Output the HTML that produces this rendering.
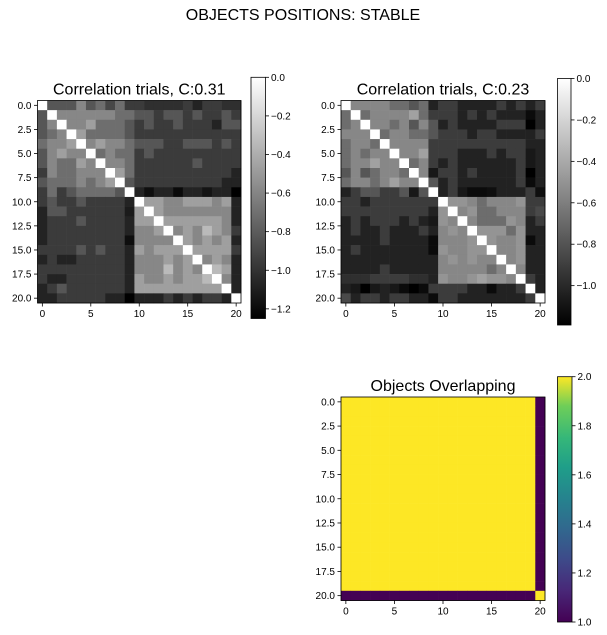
<!DOCTYPE html>
<html><head><meta charset="utf-8"><style>
html,body{margin:0;padding:0;background:#fff;}
svg{display:block;font-family:"Liberation Sans","DejaVu Sans",sans-serif;}
</style></head><body>
<svg id="fig" width="607" height="635" viewBox="0 0 607 635" xmlns="http://www.w3.org/2000/svg">
<defs>
<linearGradient id="grayGrad" x1="0" y1="1" x2="0" y2="0"><stop offset="0" stop-color="#000"/><stop offset="1" stop-color="#fff"/></linearGradient>
<linearGradient id="virGrad" x1="0" y1="1" x2="0" y2="0">
<stop offset="0" stop-color="#440154"/><stop offset="0.13" stop-color="#482878"/><stop offset="0.25" stop-color="#3e4989"/><stop offset="0.38" stop-color="#31688e"/><stop offset="0.5" stop-color="#26828e"/><stop offset="0.63" stop-color="#1f9e89"/><stop offset="0.75" stop-color="#35b779"/><stop offset="0.88" stop-color="#6ece58"/><stop offset="1" stop-color="#fde725"/>
</linearGradient>
</defs>
<text x="303" y="20" font-size="16" text-anchor="middle" fill="#000">OBJECTS POSITIONS: STABLE</text>
</svg>
<script>
// Matrix 1 (Correlation trials, C:0.31)
const corr1 = [
[0,-0.83,-0.83,-0.83,-0.59,-0.83,-0.71,-0.9,-0.71,-0.96,-0.96,-1.02,-1.02,-1.02,-1.02,-0.96,-1.08,-0.96,-0.96,-1.02,-1.02],
[-0.83,0,-0.59,-0.59,-0.59,-0.59,-0.59,-0.59,-0.71,-0.71,-0.83,-0.83,-0.96,-0.83,-0.83,-0.96,-0.83,-0.96,-0.96,-0.83,-0.96],
[-0.83,-0.59,0,-0.59,-0.59,-0.47,-0.71,-0.71,-0.71,-0.83,-0.96,-0.83,-0.96,-0.96,-0.83,-0.96,-0.96,-0.96,-1.08,-0.83,-0.83],
[-0.83,-0.71,-0.59,0,-0.47,-0.71,-0.71,-0.71,-0.71,-0.83,-0.96,-0.96,-0.96,-0.96,-0.96,-0.96,-0.96,-0.96,-0.96,-0.96,-0.96],
[-0.71,-0.59,-0.59,-0.47,0,-0.59,-0.47,-0.59,-0.59,-0.71,-0.83,-0.83,-0.83,-0.96,-0.96,-0.83,-0.83,-0.83,-0.96,-0.83,-0.96],
[-0.83,-0.59,-0.47,-0.59,-0.59,0,-0.71,-0.59,-0.71,-0.71,-0.96,-0.83,-0.96,-0.96,-0.96,-0.96,-0.96,-0.96,-0.96,-0.96,-0.96],
[-0.83,-0.59,-0.71,-0.71,-0.47,-0.59,0,-0.59,-0.59,-0.71,-0.96,-0.96,-0.96,-0.96,-0.96,-0.96,-0.83,-0.96,-0.96,-0.96,-0.96],
[-0.96,-0.59,-0.71,-0.71,-0.59,-0.59,-0.59,0,-0.47,-0.71,-0.96,-0.96,-0.96,-0.96,-0.96,-0.96,-0.96,-0.96,-0.96,-0.96,-1.08],
[-0.83,-0.71,-0.71,-0.71,-0.59,-0.71,-0.59,-0.47,0,-0.83,-0.96,-0.96,-0.96,-0.96,-0.96,-0.96,-0.96,-0.96,-0.96,-1.08,-1.08],
[-0.96,-0.71,-0.96,-0.83,-0.71,-0.71,-0.71,-0.71,-0.83,0,-1.08,-1.18,-1.08,-1.08,-1.2,-1.08,-1.08,-1.15,-1.08,-1.08,-1.25],
[-0.96,-0.83,-0.96,-0.96,-0.83,-0.96,-0.96,-0.96,-0.96,-1.08,0,-0.47,-0.47,-0.59,-0.59,-0.47,-0.47,-0.47,-0.59,-0.47,-1.08],
[-1.08,-0.83,-0.83,-0.96,-0.96,-0.96,-0.96,-0.96,-0.96,-1.12,-0.47,0,-0.47,-0.59,-0.59,-0.59,-0.59,-0.59,-0.59,-0.59,-1.08],
[-1.08,-0.96,-0.96,-0.96,-0.83,-0.96,-0.96,-0.96,-0.96,-1.08,-0.47,-0.47,0,-0.47,-0.47,-0.47,-0.47,-0.47,-0.47,-0.59,-1.08],
[-1.08,-0.96,-0.96,-0.96,-0.96,-0.96,-0.96,-0.96,-0.96,-1.08,-0.59,-0.59,-0.47,0,-0.59,-0.47,-0.59,-0.34,-0.47,-0.59,-0.96],
[-1.08,-0.96,-0.96,-0.96,-0.96,-0.96,-0.96,-0.96,-0.96,-1.18,-0.59,-0.59,-0.59,-0.59,0,-0.47,-0.59,-0.47,-0.59,-0.47,-1.08],
[-0.96,-0.96,-0.96,-0.96,-0.83,-0.96,-0.83,-0.96,-0.96,-1.08,-0.47,-0.59,-0.47,-0.47,-0.47,0,-0.47,-0.47,-0.47,-0.47,-0.96],
[-1.08,-0.96,-1.08,-1.08,-0.96,-0.96,-0.96,-0.96,-0.96,-1.08,-0.59,-0.59,-0.59,-0.47,-0.59,-0.47,0,-0.59,-0.47,-0.59,-1.08],
[-0.96,-0.96,-0.96,-0.96,-0.96,-0.96,-0.96,-0.96,-0.96,-1.08,-0.59,-0.59,-0.59,-0.34,-0.59,-0.47,-0.59,0,-0.34,-0.47,-1.08],
[-0.96,-1.08,-1.08,-0.96,-0.96,-0.96,-0.96,-0.96,-0.96,-1.08,-0.47,-0.59,-0.59,-0.47,-0.59,-0.47,-0.47,-0.34,0,-0.59,-1.08],
[-1.08,-0.96,-0.83,-0.96,-0.96,-0.96,-0.96,-0.96,-0.96,-1.08,-0.47,-0.47,-0.47,-0.47,-0.47,-0.47,-0.47,-0.47,-0.47,0,-1.08],
[-1.08,-1.08,-0.96,-0.96,-0.96,-0.96,-0.96,-1.08,-1.08,-1.25,-1.08,-1.08,-1.08,-0.96,-1.08,-0.96,-1.08,-0.96,-0.96,-1.08,0]
];
// Matrix 2 (Correlation trials, C:0.23)
const corr2 = [
[0,-0.56,-0.56,-0.56,-0.56,-0.68,-0.68,-0.79,-0.68,-1.03,-0.91,-0.91,-1.03,-1.03,-1.03,-1.03,-0.91,-1.03,-0.91,-1.03,-0.91],
[-0.68,0,-0.68,-0.56,-0.56,-0.56,-0.56,-0.44,-0.68,-0.91,-0.91,-0.91,-1.03,-0.91,-1.03,-0.91,-1.03,-1.03,-1.03,-1.14,-1.03],
[-0.68,-0.56,0,-0.56,-0.56,-0.68,-0.56,-0.79,-0.56,-0.79,-1.03,-0.91,-1.03,-1.03,-1.03,-1.03,-0.91,-0.91,-0.91,-1.19,-1.03],
[-0.56,-0.56,-0.56,0,-0.68,-0.56,-0.56,-0.68,-0.68,-0.79,-0.91,-0.91,-0.91,-1.03,-0.91,-0.91,-1.03,-1.03,-1.03,-1.03,-0.91],
[-0.68,-0.56,-0.56,-0.68,0,-0.56,-0.56,-0.56,-0.56,-0.91,-0.91,-0.91,-0.91,-0.91,-0.91,-0.91,-0.91,-0.91,-0.91,-1.03,-1.03],
[-0.68,-0.56,-0.68,-0.56,-0.56,0,-0.56,-0.56,-0.44,-0.91,-0.91,-0.91,-1.03,-1.03,-1.03,-0.91,-1.03,-0.91,-0.91,-1.08,-1.03],
[-0.68,-0.56,-0.56,-0.44,-0.56,-0.56,0,-0.68,-0.56,-0.91,-1.03,-0.91,-1.03,-1.03,-1.03,-1.03,-1.03,-1.03,-0.91,-1.08,-1.03],
[-0.79,-0.56,-0.79,-0.68,-0.56,-0.56,-0.68,0,-0.56,-1.08,-0.91,-0.91,-1.03,-0.91,-1.03,-1.03,-1.03,-1.03,-0.91,-1.19,-1.03],
[-0.68,-0.56,-0.56,-0.68,-0.56,-0.44,-0.56,-0.56,0,-0.79,-1.03,-0.91,-1.03,-1.03,-1.03,-1.03,-1.03,-1.03,-0.91,-1.14,-1.03],
[-1.03,-0.91,-0.79,-0.79,-0.91,-0.91,-0.79,-1.08,-0.79,0,-1.03,-0.91,-1.08,-1.14,-1.14,-1.12,-1.03,-1.03,-1.03,-0.91,-1.12],
[-0.91,-0.91,-1.03,-0.91,-0.91,-0.91,-0.91,-0.91,-0.91,-0.91,0,-0.5,-0.5,-0.56,-0.68,-0.56,-0.56,-0.56,-0.5,-0.91,-0.91],
[-0.91,-0.91,-0.91,-0.91,-0.91,-0.91,-0.91,-0.91,-0.91,-1.03,-0.5,0,-0.56,-0.5,-0.68,-0.68,-0.56,-0.56,-0.56,-0.91,-0.85],
[-1.03,-0.91,-1.03,-0.91,-0.91,-0.91,-1.03,-0.91,-1.03,-1.08,-0.5,-0.56,0,-0.56,-0.68,-0.68,-0.68,-0.5,-0.56,-1.03,-0.91],
[-1.03,-0.91,-1.03,-1.03,-0.91,-1.03,-1.03,-1.03,-0.91,-1.03,-0.56,-0.5,-0.56,0,-0.5,-0.5,-0.5,-0.68,-0.5,-1.03,-1.03],
[-1.03,-1.03,-1.03,-1.03,-0.91,-1.03,-1.03,-1.03,-1.03,-1.14,-0.56,-0.56,-0.56,-0.5,0,-0.5,-0.56,-0.56,-0.5,-1.14,-1.03],
[-1.03,-0.91,-1.03,-1.03,-1.03,-1.03,-1.03,-1.03,-1.03,-1.14,-0.5,-0.56,-0.56,-0.5,-0.5,0,-0.56,-0.56,-0.5,-1.03,-1.03],
[-1.03,-1.03,-1.03,-1.03,-1.03,-1.03,-1.03,-1.03,-1.03,-1.03,-0.56,-0.5,-0.56,-0.5,-0.56,-0.56,0,-0.56,-0.5,-1.03,-1.03],
[-1.03,-1.03,-1.03,-1.03,-0.91,-1.03,-1.03,-1.03,-1.03,-1.03,-0.56,-0.56,-0.56,-0.56,-0.56,-0.68,-0.56,0,-0.56,-1.03,-1.03],
[-0.97,-0.97,-0.97,-0.91,-0.91,-0.91,-0.91,-0.97,-0.97,-1.03,-0.5,-0.56,-0.56,-0.5,-0.44,-0.5,-0.5,-0.56,0,-0.91,-1.03],
[-1.03,-1.08,-1.19,-1.08,-1.03,-1.08,-1.14,-1.19,-1.14,-0.91,-0.91,-0.91,-0.91,-1.03,-1.03,-1.14,-1.03,-1.03,-0.91,0,-1.03],
[-0.85,-1.03,-0.91,-0.91,-1.03,-0.91,-0.91,-1.03,-1.03,-1.14,-0.91,-0.91,-1.03,-1.03,-1.03,-1.03,-1.03,-1.03,-1.03,-0.91,0]
];
// Matrix 3 (Objects Overlapping)
const overlap = [];
const overlapMain = 2, overlapEdge = 1;
for (let i = 0; i < 21; i++) { const r = []; for (let j = 0; j < 21; j++) r.push((i === 20) !== (j === 20) ? overlapEdge : overlapMain); overlap.push(r); }

const axisTicksX = [0, 5, 10, 15, 20];
const axisTicksY = [0, 2.5, 5, 7.5, 10, 12.5, 15, 17.5, 20];
const cb1Ticks = [0, -0.2, -0.4, -0.6, -0.8, -1.0, -1.2];
const cb2Ticks = [0, -0.2, -0.4, -0.6, -0.8, -1.0];
const cb3Ticks = [1.0, 1.2, 1.4, 1.6, 1.8, 2.0];

const NS = 'http://www.w3.org/2000/svg';
const svg = document.getElementById('fig');
function el(tag, attrs, parent) {
  const e = document.createElementNS(NS, tag);
  for (const k in attrs) e.setAttribute(k, attrs[k]);
  (parent || svg).appendChild(e);
  return e;
}
const VIR = [[0,[68,1,84]],[0.13,[72,40,120]],[0.25,[62,73,137]],[0.38,[49,104,142]],[0.5,[38,130,142]],[0.63,[31,158,137]],[0.75,[53,183,121]],[0.88,[110,206,88]],[1,[253,231,37]]];
function viridis(t){for(let i=1;i<VIR.length;i++){if(t<=VIR[i][0]){const a=VIR[i-1],b=VIR[i];const f=(t-a[0])/(b[0]-a[0]);return 'rgb('+a[1].map((c,k)=>Math.round(c+(b[1][k]-c)*f)).join(',')+')';}}return 'rgb(253,231,37)';}
function gray(t){const g=Math.round(Math.max(0,Math.min(1,t))*255);return 'rgb('+g+','+g+','+g+')';}
function fmt(v, d){return (v<0?'\u2212':'')+Math.abs(v).toFixed(d);}

function heatmap(name, data, x0, y0, w, h, vmin, vmax, cmap, title, cb) {
  const g = el('g', {});
  
  
  const n = data.length, cw = w / n, ch = h / n;
  const xs = c => x0 + c * cw, ys = r => y0 + r * ch;
  data.forEach((row, r) => row.forEach((v, c) => {
    const rc = el('rect', {x: xs(c), y: ys(r), width: cw + 0.3, height: ch + 0.3, fill: cmap((v - vmin) / (vmax - vmin))}, g);
    
    
  }));
  el('rect', {x: x0, y: y0, width: w, height: h, fill: 'none', stroke: '#000', 'stroke-width': 0.8}, g);
  const t = el('text', {x: x0 + w / 2, y: y0 - 6, 'font-size': 16, 'text-anchor': 'middle'}, g);
  t.textContent = title;
  
  
  axisTicksX.forEach(v => {
    const x = x0 + (v + 0.5) * cw;
    el('line', {x1: x, x2: x, y1: y0 + h, y2: y0 + h + 3.5, stroke: '#000', 'stroke-width': 0.8}, g);
    const tx = el('text', {x: x, y: y0 + h + 14, 'font-size': 10, 'text-anchor': 'middle'}, g);
    tx.textContent = v;
    
    
  });
  axisTicksY.forEach(v => {
    const y = y0 + (v + 0.5) * ch;
    el('line', {x1: x0 - 3.5, x2: x0, y1: y, y2: y, stroke: '#000', 'stroke-width': 0.8}, g);
    const ty = el('text', {x: x0 - 6, y: y + 3.5, 'font-size': 10, 'text-anchor': 'end'}, g);
    ty.textContent = v.toFixed(1);
    
    
  });
  // colorbar
  const cg = el('g', {}, svg);
  
  
  el('rect', {x: cb.x, y: cb.y0, width: cb.w, height: cb.y1 - cb.y0, fill: cb.grad, stroke: '#000', 'stroke-width': 0.8}, cg);
  const cy = v => cb.y1 - (v - vmin) / (vmax - vmin) * (cb.y1 - cb.y0);
  cb.ticks.forEach(v => {
    const y = cy(v);
    el('line', {x1: cb.x + cb.w, x2: cb.x + cb.w + 3.5, y1: y, y2: y, stroke: '#000', 'stroke-width': 0.8}, cg);
    const tl = el('text', {x: cb.x + cb.w + 5.5, y: y + 3.5, 'font-size': 10}, cg);
    tl.textContent = fmt(v, 1);
    
    
  });
}
heatmap('correlation-heatmap-1', corr1, 37.5, 100.5, 203.5, 202.5, -1.25, 0, gray, 'Correlation trials, C:0.31',
  {x: 251, w: 14.5, y0: 77.3, y1: 318.5, grad: 'url(#grayGrad)', ticks: cb1Ticks});
heatmap('correlation-heatmap-2', corr2, 341, 100.5, 204, 202.5, -1.19, 0, gray, 'Correlation trials, C:0.23',
  {x: 557.5, w: 13.5, y0: 78.5, y1: 325, grad: 'url(#grayGrad)', ticks: cb2Ticks});
heatmap('overlap-heatmap', overlap, 341, 397, 204, 203.5, 1, 2, viridis, 'Objects Overlapping',
  {x: 557.5, w: 14.5, y0: 376.7, y1: 622, grad: 'url(#virGrad)', ticks: cb3Ticks});
</script>
</body></html>
